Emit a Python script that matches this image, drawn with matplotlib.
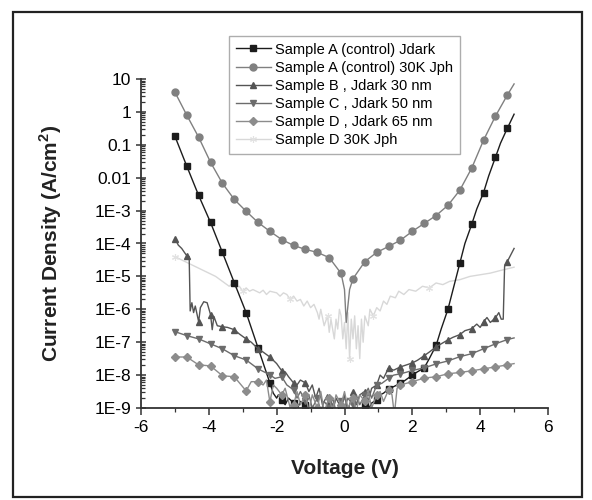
import numpy as np
import matplotlib
matplotlib.use("Agg")
import matplotlib.pyplot as plt
from matplotlib.patches import Rectangle
from matplotlib.ticker import FixedLocator, FixedFormatter, MultipleLocator, LogLocator, NullFormatter

plt.rcParams['font.family'] = ['Liberation Sans', 'DejaVu Sans']
plt.rcParams['axes.unicode_minus'] = False

# --- data (voltage in V, log10 of current density in A/cm^2) ---
labels = ["Sample A (control) Jdark", "Sample A (control) 30K Jph",
          "Sample B , Jdark 30 nm", "Sample C , Jdark 50 nm",
          "Sample D , Jdark 65 nm", "Sample D 30K Jph"]

a_dark_v = [-5.0, -4.65, -4.3, -3.95, -3.6, -3.25, -2.9, -2.55, -2.2, -2.1, -2.0, -1.95, -1.85, -1.75,
            -1.65, -1.5, -1.4, -1.3, -1.15, -1.05, -0.95, -0.8, -0.7, -0.6, -0.45, -0.35, -0.25, -0.1,
            0.0, 0.1, 0.25, 0.35, 0.45, 0.6, 0.7, 0.8, 0.95, 1.05, 1.15, 1.3, 1.45, 1.65, 1.8, 2.0,
            2.15, 2.35, 2.5, 2.7, 2.85, 3.05, 3.2, 3.4, 3.55, 3.75, 3.9, 4.1, 4.25, 4.45, 4.6, 4.8, 5.0]
a_dark_j = [-0.74, -1.65, -2.54, -3.36, -4.27, -5.19, -6.1, -7.17, -8.24, -8.55, -8.7, -8.6, -8.75, -8.9,
            -8.7, -8.85, -9.05, -8.8, -8.9, -9.1, -8.95, -9.2, -9.0, -9.2, -9.1, -9.0, -9.2, -9.1,
            -9.2, -9.0, -9.15, -9.0, -9.1, -8.9, -9.05, -8.85, -8.75, -8.6, -8.55, -8.42, -8.35, -8.25, -8.15, -8.0,
            -7.9, -7.78, -7.5, -7.1, -6.6, -6.0, -5.4, -4.6, -4.0, -3.42, -2.95, -2.45, -1.95, -1.38, -0.95, -0.5, -0.07]

a_ph_v = [-5.0, -4.65, -4.3, -3.95, -3.6, -3.25, -2.9, -2.55, -2.2, -1.85, -1.5, -1.15, -0.8, -0.45,
          -0.1, 0.0, 0.05, 0.1, 0.15, 0.25, 0.6, 0.95, 1.3, 1.65, 2.0, 2.35, 2.7, 3.05, 3.4, 3.75,
          4.1, 4.45, 4.8, 5.0]
a_ph_j = [0.6, -0.1, -0.77, -1.53, -2.17, -2.66, -3.02, -3.36, -3.63, -3.88, -4.06, -4.18, -4.27, -4.43,
          -4.91, -5.4, -6.4, -5.9, -5.4, -5.07, -4.55, -4.27, -4.09, -3.9, -3.63, -3.39, -3.15, -2.84, -2.38, -1.71,
          -0.86, -0.13, 0.51, 0.85]

b_v = [-5.0, -4.9, -4.8, -4.7, -4.65, -4.58, -4.55, -4.5, -4.45, -4.4, -4.3, -4.25, -4.15, -4.05, -3.95,
       -3.9, -3.85, -3.75, -3.6, -3.45, -3.25, -3.1, -2.9, -2.75, -2.55, -2.4, -2.2, -2.0, -1.85, -1.75,
       -1.65, -1.5, -1.4, -1.3, -1.15, -1.05, -0.95, -0.85, -0.75, -0.65, -0.5, -0.45, -0.35, -0.25, -0.1,
       0.0, 0.1, 0.25, 0.35, 0.45, 0.6, 0.7, 0.8, 0.95, 1.05, 1.15, 1.3, 1.45, 1.65, 1.8, 2.0, 2.15, 2.35,
       2.5, 2.7, 2.85, 3.05, 3.2, 3.4, 3.55, 3.75, 3.9, 4.0, 4.1, 4.2, 4.3, 4.45, 4.55, 4.62, 4.68, 4.72,
       4.8, 5.0]
b_j = [-3.85, -4.05, -4.15, -4.3, -4.37, -4.4, -6.05, -5.8, -6.1, -5.9, -6.38, -5.95, -5.77, -5.8, -6.16,
       -6.62, -6.22, -6.5, -6.53, -6.55, -6.62, -6.75, -6.9, -7.0, -7.2, -7.3, -7.45, -7.65, -7.87, -7.9,
       -8.05, -8.24, -8.3, -8.15, -8.24, -8.5, -8.3, -8.7, -8.4, -8.9, -8.6, -8.8, -9.1, -8.7, -9.0,
       -8.6, -9.1, -8.5, -8.9, -8.6, -8.5, -8.8, -8.4, -8.3, -8.0, -8.1, -7.78, -7.85, -7.75, -7.7, -7.63, -7.55, -7.41,
       -7.3, -7.14, -7.05, -6.93, -6.85, -6.77, -6.65, -6.59, -6.45, -6.55, -6.38, -6.25, -6.4, -6.26, -6.1, -6.3, -6.3, -4.7,
       -4.55, -4.15]

c_v = [-5.0, -4.65, -4.3, -3.95, -3.6, -3.25, -2.9, -2.55, -2.2, -2.05, -1.85, -1.7, -1.5, -1.4, -1.3,
       -1.15, -1.05, -0.95, -0.8, -0.7, -0.6, -0.45, -0.35, -0.25, -0.1, 0.0, 0.1, 0.25, 0.35, 0.45, 0.6,
       0.7, 0.8, 0.95, 1.1, 1.3, 1.45, 1.65, 1.8, 2.0, 2.35, 2.7, 3.05, 3.4, 3.75, 4.1, 4.45, 4.8, 5.0]
c_j = [-6.68, -6.8, -6.9, -7.05, -7.2, -7.41, -7.54, -7.81, -7.99, -8.1, -8.05, -8.3, -8.45, -8.7, -8.5,
       -8.8, -8.6, -9.0, -8.7, -9.1, -8.8, -9.0, -8.7, -9.1, -8.8, -9.0, -8.7, -8.9, -8.6, -8.9, -8.6,
       -8.4, -8.7, -8.3, -8.25, -8.1, -8.0, -7.96, -7.92, -7.86, -7.78, -7.66, -7.57, -7.44, -7.35, -7.2, -7.05, -6.92, -6.87]

d_v = [-5.0, -4.65, -4.3, -3.95, -3.6, -3.25, -2.9, -2.75, -2.55, -2.4, -2.3, -2.2, -2.1, -2.0, -1.85,
       -1.75, -1.6, -1.5, -1.4, -1.3, -1.15, -1.05, -0.95, -0.8, -0.7, -0.6, -0.45, -0.35, -0.25, -0.1,
       0.0, 0.1, 0.25, 0.35, 0.45, 0.6, 0.7, 0.8, 0.95, 1.05, 1.15, 1.3, 1.4, 1.47, 1.55, 1.65, 2.0, 2.35,
       2.7, 3.05, 3.4, 3.75, 4.1, 4.45, 4.8, 5.0]
d_j = [-7.45, -7.45, -7.69, -7.72, -8.02, -8.05, -8.48, -8.2, -8.2, -8.3, -8.15, -8.82, -8.3, -8.4, -8.6,
       -8.4, -9.0, -8.9, -8.5, -8.9, -8.6, -9.1, -8.6, -9.0, -8.5, -9.1, -8.7, -9.1, -8.6, -8.9,
       -8.5, -9.0, -8.7, -9.1, -8.6, -8.8, -8.5, -9.0, -8.6, -8.5, -8.8, -8.45, -8.6, -9.2, -8.4, -8.3, -8.2, -8.09,
       -8.05, -7.96, -7.92, -7.87, -7.81, -7.75, -7.69, -7.65]

dph_v = [-5.0, -4.8, -4.6, -4.4, -4.2, -4.0, -3.8, -3.6, -3.4, -3.3, -3.2, -3.1, -3.0, -2.9, -2.8, -2.7,
         -2.5, -2.4, -2.3, -2.2, -2.0, -1.9, -1.8, -1.7, -1.6, -1.5, -1.4, -1.3, -1.2, -1.1, -1.0, -0.9,
         -0.8, -0.75, -0.7, -0.6, -0.5, -0.45, -0.4, -0.3, -0.25, -0.2, -0.15, -0.1, -0.05, 0.0, 0.05, 0.1,
         0.15, 0.2, 0.25, 0.3, 0.35, 0.4, 0.45, 0.5, 0.55, 0.6, 0.7, 0.75, 0.85, 0.95, 1.05, 1.15, 1.25,
         1.35, 1.5, 1.6, 1.75, 1.9, 2.1, 2.3, 2.5, 2.7, 2.9, 3.1, 3.4, 3.7, 4.0, 4.3, 4.6, 5.0]
dph_j = [-4.4, -4.5, -4.6, -4.7, -4.8, -4.9, -5.0, -5.15, -5.3, -5.2, -5.35, -5.3, -5.45, -5.35, -5.45, -5.4,
         -5.5, -5.42, -5.55, -5.45, -5.5, -5.6, -5.5, -5.55, -5.7, -5.6, -5.75, -5.7, -5.9, -5.75, -5.95, -5.85,
         -6.1, -6.3, -6.0, -6.5, -6.2, -6.7, -6.3, -6.9, -6.3, -6.6, -6.0, -6.2, -6.9, -6.4, -7.2, -6.1,
         -7.5, -6.3, -6.9, -6.2, -7.2, -6.5, -7.5, -6.3, -7.0, -6.2, -6.5, -6.0, -6.2, -5.95, -6.05, -5.75, -5.85,
         -5.6, -5.65, -5.45, -5.55, -5.4, -5.45, -5.3, -5.35, -5.2, -5.25, -5.15, -5.1, -5.0, -4.95, -4.9, -4.82, -4.72]

ytick_vals = [1e-9, 1e-8, 1e-7, 1e-6, 1e-5, 1e-4, 1e-3, 1e-2, 1e-1, 1, 10]
ytick_text = ["1E-9", "1E-8", "1E-7", "1E-6", "1E-5", "1E-4", "1E-3", "0.01", "0.1", "1", "10"]
xtick_vals = [-6, -4, -2, 0, 2, 4, 6]


def on_grid(v):
    # markers sit every 0.35 V starting at -5 V
    return [i for i, x in enumerate(v) if abs((x + 5) / 0.35 - round((x + 5) / 0.35)) < 1e-6]


fig = plt.figure(figsize=(5.92, 5.0), dpi=100)
ax = fig.add_axes([141 / 592, 1 - 408 / 500, 407 / 592, 329 / 500])

series = [
    (a_dark_v, a_dark_j, "#1c1c1c", "s"),
    (a_ph_v, a_ph_j, "#808080", "o"),
    (b_v, b_j, "#545454", "^"),
    (c_v, c_j, "#6c6c6c", "v"),
    (d_v, d_j, "#8c8c8c", "D"),
]
# light photocurrent trace drawn first so it stays behind
light, = ax.plot(dph_v, 10 ** np.array(dph_j), color="#d8d8d8", lw=1.0, marker=(6, 2, 0), ms=5,
                 markevery=12, mec="#e2e2e2", mew=0.8, label=labels[5], zorder=1)
handles = []
for (v, j, col, mk), lab in zip(series, labels):
    ms = 5.0 if mk != "D" else 4.5
    h, = ax.plot(v, 10 ** np.array(j), color=col, lw=1.0, marker=mk, ms=ms, mfc=col, mec=col,
                 markevery=on_grid(v), label=lab, zorder=2)
    handles.append(h)
handles.append(light)

ax.set_yscale("log")
ax.set_xlim(-6, 6)
ax.set_ylim(1e-9, 10)
ax.yaxis.set_major_locator(FixedLocator(ytick_vals))
ax.yaxis.set_major_formatter(FixedFormatter(ytick_text))
ax.yaxis.set_minor_locator(LogLocator(base=10, subs=np.arange(2, 10), numticks=30))
ax.yaxis.set_minor_formatter(NullFormatter())
ax.xaxis.set_major_locator(FixedLocator(xtick_vals))
ax.xaxis.set_minor_locator(MultipleLocator(1))

for s in ["top", "right"]:
    ax.spines[s].set_visible(False)
for s in ["left", "bottom"]:
    ax.spines[s].set_linewidth(1.3)
    ax.spines[s].set_color("#333333")

ax.tick_params(axis="y", which="major", direction="inout", length=7, width=1.1, labelsize=12.5, color="#333333")
ax.tick_params(axis="y", which="minor", direction="in", length=3, width=0.9, color="#333333")
ax.tick_params(axis="x", which="major", direction="out", length=5, width=1.1, labelsize=12.5, color="#333333")
ax.tick_params(axis="x", which="minor", direction="out", length=3, width=0.9, color="#333333")

ax.set_xlabel("Voltage (V)", fontsize=15, fontweight="bold", color="#222222")
ax.set_ylabel("Current Density (A/cm$^\\mathregular{2}$)", fontsize=15, fontweight="bold", color="#222222")
ax.xaxis.set_label_coords(0.5, -0.155)
ax.yaxis.set_label_coords(-0.19, 0.5)

leg = ax.legend(handles=handles, loc="upper left", bbox_to_anchor=(229 / 592, 1 - 36 / 500),
                bbox_transform=fig.transFigure, fontsize=10.5, frameon=True, fancybox=False,
                borderaxespad=0, handlelength=2.4, labelspacing=0.28, borderpad=0.45, handletextpad=0.3)
leg.get_frame().set_edgecolor("#999999")
leg.get_frame().set_linewidth(1.0)

# outer frame around the whole figure
fig.patches.append(Rectangle((13 / 592, 3 / 500), 569 / 592, 485 / 500, transform=fig.transFigure,
                             fill=False, edgecolor="#222222", lw=1.6))

fig.savefig("out.png", dpi=100)
